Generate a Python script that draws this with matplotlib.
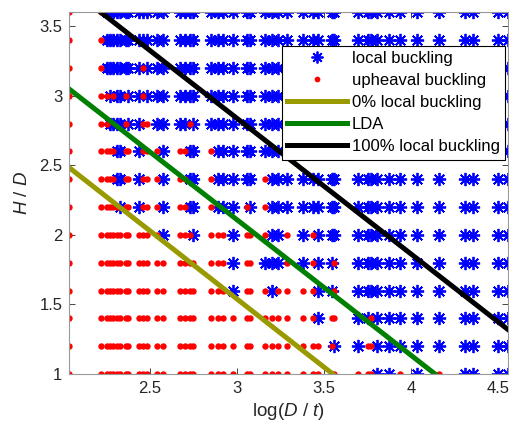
import numpy as np
import matplotlib
matplotlib.use("Agg")
import matplotlib.pyplot as plt

plt.rcParams["font.family"] = ["Liberation Sans", "DejaVu Sans"]
plt.rcParams["mathtext.fontset"] = "custom"
plt.rcParams["mathtext.rm"] = "Liberation Sans"
plt.rcParams["mathtext.it"] = "Liberation Sans:italic"

# pipe slenderness columns, log(D/t)
log_dt = [2.036, 2.217, 2.251, 2.270, 2.289, 2.309, 2.328, 2.362, 2.375,
          2.435, 2.462, 2.484, 2.542, 2.576, 2.672, 2.701, 2.730, 2.749,
          2.849, 2.891, 2.921, 2.979, 3.056, 3.075, 3.161, 3.199, 3.237,
          3.286, 3.381, 3.437, 3.467, 3.544, 3.559, 3.694, 3.753, 3.770,
          3.803, 3.874, 3.937, 4.033, 4.161, 4.310, 4.358, 4.500, 4.557]

# cover depth ratios
h_over_d = [1.0, 1.2, 1.4, 1.6, 1.8, 2.0, 2.2, 2.4, 2.6, 2.8, 3.0, 3.2, 3.4, 3.6]

# column indices that failed by upheaval buckling, one list per H/D row
upheaval_cols = [
    list(range(0, 36)) + [38, 40],
    list(range(0, 32)) + [34, 35],
    list(range(0, 30)) + [31, 32, 35],
    list(range(0, 21)) + [22, 23, 24, 26, 27, 28, 29, 32],
    list(range(0, 21)) + [22, 23, 27, 29, 32],
    list(range(0, 13)) + [14, 15, 16, 18, 19, 20, 22, 23, 24, 27, 29],
    [0, 1, 2, 3, 4, 5, 7, 8, 10, 11, 12, 14, 15, 18, 22, 24],
    [0, 1, 2, 3, 4, 7, 8, 10, 11, 12, 14, 15, 18, 24],
    [0, 1, 2, 3, 4, 7, 8, 10, 11, 12, 14, 15, 18],
    [0, 1, 2, 7, 10, 11, 16],
    [0, 1, 2, 4, 7, 10],
    [0, 1, 10],
    [0, 1],
    [0, 1],
]

# boundary lines
zero_x, zero_y = [2.036, 3.55], [2.483, 1.0]
lda_x, lda_y = [2.036, 4.138], [3.048, 1.0]
full_x, full_y = [2.218, 4.56], [3.6, 1.317]

loc_x, loc_y, up_x, up_y = [], [], [], []
for hd, reds in zip(h_over_d, upheaval_cols):
    for i, x in enumerate(log_dt):
        if i in reds:
            up_x.append(x)
            up_y.append(hd)
        else:
            loc_x.append(x)
            loc_y.append(hd)

fig = plt.figure(figsize=(5.1, 4.41), dpi=100)
ax = fig.add_axes([0.1359, 0.152, 0.861, 0.820])

ax.plot(loc_x, loc_y, linestyle="none", marker=(8, 2, 0), markersize=9.5,
        markeredgewidth=1.3, color="blue", label="local buckling")
ax.plot(up_x, up_y, linestyle="none", marker="o", markersize=4.6,
        markeredgewidth=0, color="red", label="upheaval buckling")
ax.plot(zero_x, zero_y, color="#999900", lw=3.6, label="0% local buckling")
ax.plot(lda_x, lda_y, color="#008000", lw=3.6, label="LDA")
ax.plot(full_x, full_y, color="black", lw=3.6, label="100% local buckling")

ax.set_xlim(2.036, 4.56)
ax.set_ylim(1.0, 3.6)
ax.set_xticks([2.5, 3, 3.5, 4, 4.5])
ax.set_xticklabels(["2.5", "3", "3.5", "4", "4.5"])
ax.set_yticks([1, 1.5, 2, 2.5, 3, 3.5])
ax.set_yticklabels(["1", "1.5", "2", "2.5", "3", "3.5"])
ax.tick_params(direction="in", length=4, width=0.6, top=True, right=True,
               labelsize=12, colors="#262626", pad=5)
for s in ax.spines.values():
    s.set_color("#999999")
    s.set_linewidth(0.8)

ax.set_xlabel(r"log($\mathit{D}$ / $\mathit{t}$)", fontsize=13.5, color="#262626",
              labelpad=4)
ax.set_ylabel(r"$\mathit{H}$ / $\mathit{D}$", fontsize=13.5, color="#262626",
              labelpad=6)

leg = ax.legend(loc="upper right", bbox_to_anchor=(0.992, 0.907), borderaxespad=0,
                fontsize=12, handlelength=3.6, handletextpad=0.25,
                labelspacing=0.42, borderpad=0.32, fancybox=False, framealpha=1,
                markerscale=0.9)
leg.get_frame().set_edgecolor("black")
leg.get_frame().set_linewidth(0.8)

fig.savefig("out.png", dpi=100)
